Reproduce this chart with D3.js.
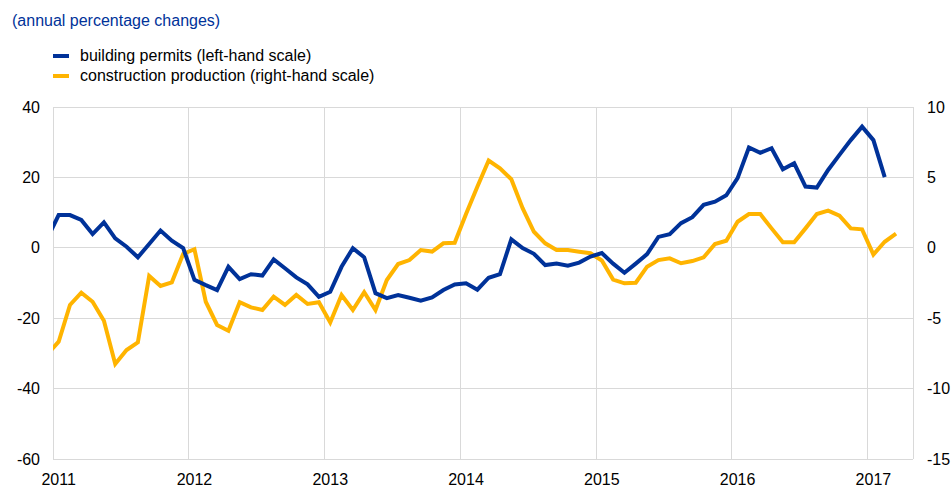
<!DOCTYPE html>
<meta charset="utf-8">
<style>
body { margin: 0; background: #fff; }
.chart text { font-family: "Liberation Sans", Arial, sans-serif; font-size: 16px; fill: #000; }
.chart .title { fill: #003299; }
.grid line { stroke: #d9d9d9; stroke-width: 1; shape-rendering: crispEdges; }
</style>
<svg class="chart" width="951" height="500"></svg>
<script src="https://d3js.org/d3.v7.min.js"></script>
<script>

// monthly series, first value is Dec 2010 (falls left of the plot and is clipped)
var firstYear = 2010, firstMonth = 11;

// building permits, annual % change (left-hand scale)
var buildingPermits = [2.7,
  9.3, 9.3, 7.9, 3.9, 7.2, 2.7, 0.3, -2.7, 1.1, 4.9, 2.0, -0.1,
  -9.1, -10.6, -12.0, -5.4, -8.9, -7.5, -7.9, -3.3, -5.8, -8.4, -10.4, -13.9,
  -12.5, -5.4, -0.1, -2.7, -12.9, -14.3, -13.4, -14.2, -15.0, -14.1, -12.0, -10.4,
  -10.1, -11.9, -8.5, -7.5, 2.4, -0.1, -1.7, -4.9, -4.5, -5.1, -4.2, -2.5,
  -1.5, -4.5, -7.1, -4.5, -1.8, 3.1, 3.9, 7.0, 8.7, 12.2, 13.1, 14.9,
  19.8, 28.5, 27.0, 28.3, 22.3, 24.0, 17.4, 17.1, 22.1, 26.4, 30.6, 34.4,
  30.6, 20.1];

// construction production, annual % change (right-hand scale)
var constructionProduction = [-7.56,
  -6.67, -4.06, -3.19, -3.83, -5.18, -8.25, -7.26, -6.71, -2.0, -2.71, -2.45, -0.44,
  -0.1, -3.83, -5.48, -5.89, -3.87, -4.23, -4.42, -3.47, -4.06, -3.35, -3.99, -3.87,
  -5.3, -3.35, -4.42, -3.16, -4.42, -2.29, -1.15, -0.87, -0.16, -0.27, 0.32, 0.36,
  2.4, 4.34, 6.2, 5.65, 4.87, 2.81, 1.14, 0.32, -0.16, -0.16, -0.28, -0.39,
  -0.9, -2.26, -2.52, -2.48, -1.34, -0.87, -0.75, -1.1, -0.94, -0.68, 0.27, 0.5,
  1.85, 2.4, 2.4, 1.38, 0.39, 0.39, 1.38, 2.4, 2.64, 2.28, 1.38, 1.31,
  -0.48, 0.43, 1.0];

var years = [2011, 2012, 2013, 2014, 2015, 2016, 2017];
var leftTicks = [-60, -40, -20, 0, 20, 40];
var rightTicks = [-15, -10, -5, 0, 5, 10];

var title = "(annual percentage changes)";
var seriesNames = ["building permits (left-hand scale)", "construction production (right-hand scale)"];
var colors = ["#003299", "#ffb400"];

var plotLeft = 53, plotRight = 913, plotTop = 107, plotBottom = 459;

// months counted from Jan 2011; a month's value sits in the middle of the month
function monthIndex(i) { return (firstYear - 2011) * 12 + firstMonth + i + 0.5; }

var x = d3.scaleLinear().domain([0, 76]).range([plotLeft, plotRight]);
var yL = d3.scaleLinear().domain([-60, 40]).range([plotBottom, plotTop]);
var yR = d3.scaleLinear().domain([-15, 10]).range([plotBottom, plotTop]);

var svg = d3.select(".chart");

svg.append("defs").append("clipPath").attr("id", "plot")
  .append("rect").attr("x", plotLeft).attr("y", 0).attr("width", plotRight - plotLeft).attr("height", 500);

// grid
var grid = svg.append("g").attr("class", "grid");
grid.selectAll(".h").data(leftTicks).enter().append("line")
  .attr("x1", plotLeft).attr("x2", plotRight)
  .attr("y1", function(d) { return yL(d) }).attr("y2", function(d) { return yL(d) });
grid.selectAll(".v").data(years).enter().append("line")
  .attr("x1", function(d) { return x((d - 2011) * 12) }).attr("x2", function(d) { return x((d - 2011) * 12) })
  .attr("y1", plotTop).attr("y2", plotBottom);
grid.append("line").attr("x1", plotRight).attr("x2", plotRight).attr("y1", plotTop).attr("y2", plotBottom);

// axes labels
svg.append("g").selectAll("text").data(leftTicks).enter().append("text")
  .attr("x", 40).attr("y", function(d) { return yL(d) }).attr("dy", ".35em")
  .attr("text-anchor", "end").text(function(d) { return d });

svg.append("g").selectAll("text").data(rightTicks).enter().append("text")
  .attr("x", 927).attr("y", function(d) { return yR(d) }).attr("dy", ".35em")
  .text(function(d) { return d });

svg.append("g").selectAll("text").data(years).enter().append("text")
  .attr("x", function(d) { return x((d - 2011) * 12 + 0.5) }).attr("y", 485)
  .attr("text-anchor", "middle").text(function(d) { return d });

// lines
var lineL = d3.line().x(function(d, i) { return x(monthIndex(i)) }).y(function(d) { return yL(d) });
var lineR = d3.line().x(function(d, i) { return x(monthIndex(i)) }).y(function(d) { return yR(d) });

var lines = svg.append("g").attr("clip-path", "url(#plot)");
lines.append("path").datum(constructionProduction).attr("d", lineR)
  .attr("fill", "none").attr("stroke", colors[1]).attr("stroke-width", 4);
lines.append("path").datum(buildingPermits).attr("d", lineL)
  .attr("fill", "none").attr("stroke", colors[0]).attr("stroke-width", 4);

// title and legend
svg.append("text").attr("class", "title").attr("x", 12).attr("y", 26).text(title);

var legend = svg.append("g").selectAll("g").data(seriesNames).enter().append("g")
  .attr("transform", function(d, i) { return "translate(53," + (54 + i * 20) + ")" });
legend.append("rect").attr("width", 16).attr("height", 4)
  .attr("fill", function(d, i) { return colors[i] });
legend.append("text").attr("x", 27).attr("y", 7).text(function(d) { return d });

</script>
